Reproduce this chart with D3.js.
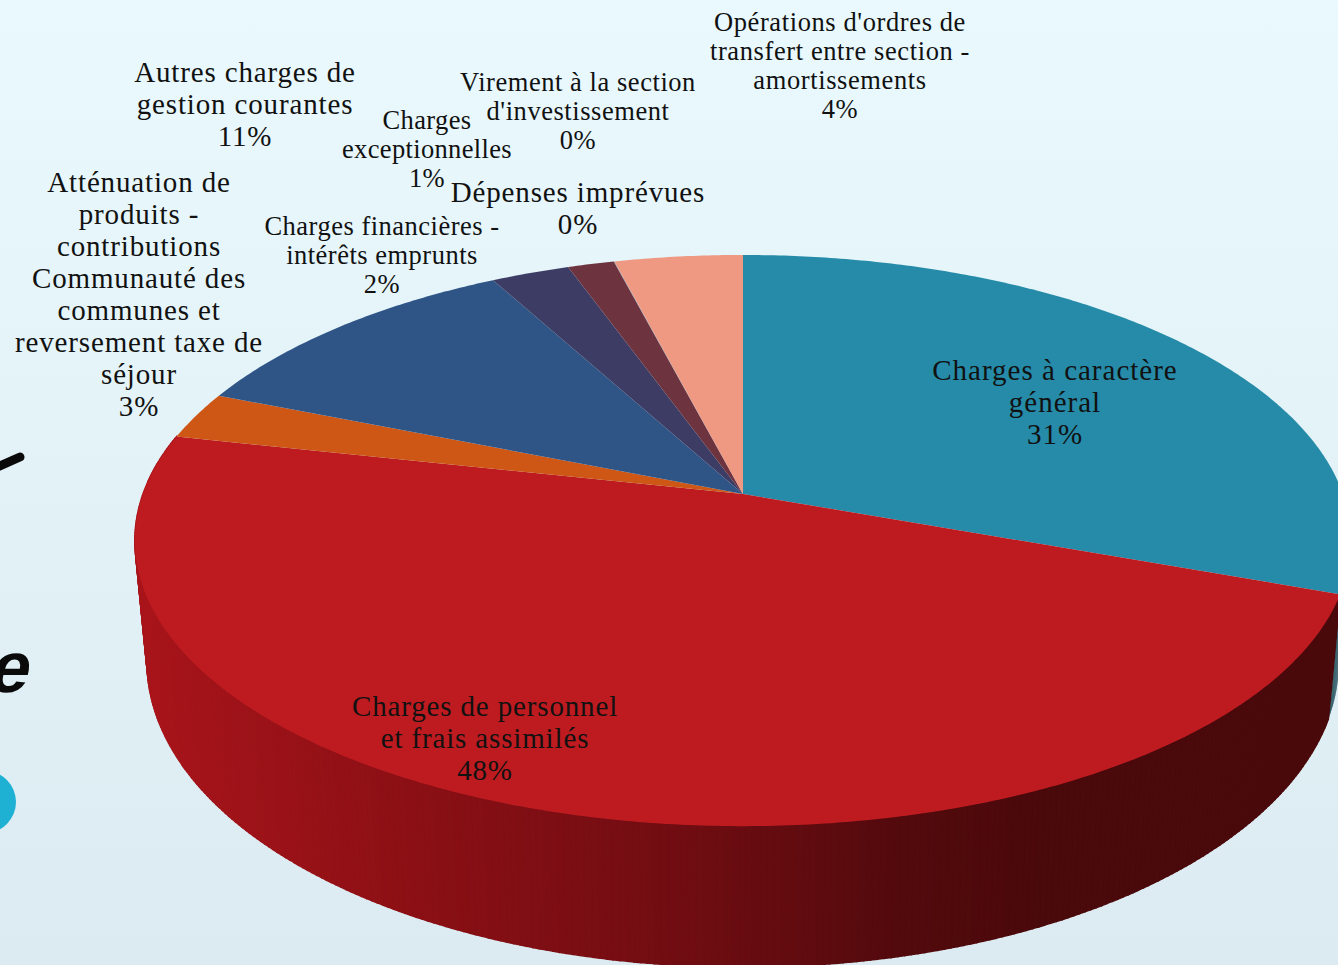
<!DOCTYPE html>
<html lang="fr">
<head>
<meta charset="utf-8">
<title>Dépenses de fonctionnement</title>
<script src="https://cdn.jsdelivr.net/npm/d3@7"></script>
<style>
	html, body { margin: 0; padding: 0; overflow: hidden; background: #e0eff5; }
	svg { display: block; }
	text { font-family: "Liberation Serif", serif; fill: #111; }
</style>
</head>
<body>
<svg id="canvas" width="1338" height="965"></svg>
<script>
let categories = [
	['Charges à caractère', 'général'],
	['Charges de personnel', 'et frais assimilés'],
	['Atténuation de', 'produits -', 'contributions', 'Communauté des', 'communes et', 'reversement taxe de', 'séjour'],
	['Autres charges de', 'gestion courantes'],
	['Charges financières -', 'intérêts emprunts'],
	['Charges', 'exceptionnelles'],
	['Dépenses imprévues'],
	['Virement à la section', "d'investissement"],
	["Opérations d'ordres de", 'transfert entre section -', 'amortissements']
];
let values = [30.6, 48, 2.7, 11, 2.45, 1.45, 0.01, 0.01, 4];
let colors = ['#258ba8', '#be1b20', '#cf5716', '#2f5587', '#3d3c65', '#6d333f', '#8a8a9a', '#6d8aa8', '#ef9882'];

// label placement: centre x, first baseline, line height, font size, tracking
let labelX = [1055, 485, 139, 245, 382, 427, 578, 578, 840];
let labelY = [380, 716, 192, 82, 235, 129, 202, 91, 31];
let labelStep = [32, 32, 32, 32, 29, 29, 32, 29, 29];
let labelSize = [29, 29, 29, 29, 26.5, 26.5, 29, 26.5, 26.5];
let labelTrack = [1, 0.85, 0.85, 0.85, 0.5, 0.35, 0.85, 0.55, 0.6];

let canvas = d3.select('#canvas');
let total = d3.sum(values);

// perspective of the pie disc
let cx = 743, cy = 494, spreadX = 600, spreadY = 278, tilt = -0.163;
let depth = 118, bottomShrink = 0.98;

let topRim = (angle) => {
	let u = Math.sin(angle), v = -Math.cos(angle);
	let w = 1 + tilt * v;
	return [cx + spreadX * u / w, cy + spreadY * v / w];
};
let bottomRim = (angle) => {
	let v = -Math.cos(angle);
	let w = 1 + tilt * v;
	let p = topRim(angle);
	return [cx + (p[0] - cx) * bottomShrink, p[1] + depth / w];
};
let arcAngles = (a0, a1) => {
	let n = Math.max(2, Math.ceil((a1 - a0) / 0.01));
	return d3.range(n + 1).map((i) => a0 + (a1 - a0) * i / n);
};

let defs = canvas.append('defs');
let bg = defs.append('linearGradient').attr('id', 'bg').attr('x1', 0).attr('x2', 0).attr('y1', 0).attr('y2', 1);
bg.append('stop').attr('offset', '0%').attr('stop-color', '#e9f9fd');
bg.append('stop').attr('offset', '100%').attr('stop-color', '#dbebf1');
canvas.append('rect').attr('width', 1338).attr('height', 965).attr('fill', 'url(#bg)');

// leftovers of the slide behind the chart
canvas.append('line').attr('x1', -5).attr('y1', 468).attr('x2', 20).attr('y2', 457)
	.attr('stroke', '#0a0a0a').attr('stroke-width', 9).attr('stroke-linecap', 'round');
canvas.append('text').text('e').attr('transform', 'translate(-14,692) skewX(-14)')
	.style('font-family', '"Liberation Sans", sans-serif').style('font-size', '72px')
	.style('font-weight', 'bold').style('fill', '#0a0a0a');
canvas.append('circle').attr('cx', -15).attr('cy', 802).attr('r', 31).attr('fill', '#1eb1d3');

let slices = d3.pie().sort(null).value((d) => d)(values);
let line = d3.line();

// side wall, teal sliver first, then the red front
let wallColor = d3.scaleLinear()
	.domain([140, 400, 700, 900, 1050])
	.range(['#a8151b', '#8c1015', '#6e0d12', '#530a0d', '#4a090b'])
	.clamp(true);

let wallStrips = [];
slices.slice(0, 2).forEach((s, i) => {
	let angles = arcAngles(s.startAngle, s.endAngle);
	d3.pairs(angles).forEach((pair) => {
		if (-Math.cos(pair[0]) > (i === 0 ? 0.1 : -0.3)) {
			wallStrips.push({ slice: i, a0: pair[0], a1: pair[1] });
		}
	});
});

canvas.append('g').selectAll('path').data(wallStrips).enter().append('path')
	.attr('d', (d) => line([topRim(d.a0), topRim(d.a1), bottomRim(d.a1), bottomRim(d.a0)]) + 'Z')
	.attr('fill', (d) => d.slice === 0 ? '#0e3e4a' : wallColor(topRim((d.a0 + d.a1) / 2)[0]))
	.attr('stroke', (d) => d.slice === 0 ? 'none' : wallColor(topRim((d.a0 + d.a1) / 2)[0]))
	.attr('stroke-width', 1.5);

// top face
canvas.append('g').selectAll('path').data(slices).enter().append('path')
	.attr('d', (s) => line([[cx, cy]].concat(arcAngles(s.startAngle, s.endAngle).map(topRim))) + 'Z')
	.attr('fill', (s, i) => colors[i]);

// labels
let labels = canvas.append('g').selectAll('text').data(categories).enter().append('text')
	.attr('text-anchor', 'middle')
	.style('font-size', (d, i) => labelSize[i] + 'px')
	.style('letter-spacing', (d, i) => labelTrack[i] + 'px');

labels.each(function (lines, i) {
	let all = lines.concat([Math.round(values[i] / total * 100) + '%']);
	d3.select(this).selectAll('tspan').data(all).enter().append('tspan')
		.attr('x', labelX[i])
		.attr('y', (t, j) => labelY[i] + j * labelStep[i])
		.text((t) => t);
});
</script>
</body>
</html>
